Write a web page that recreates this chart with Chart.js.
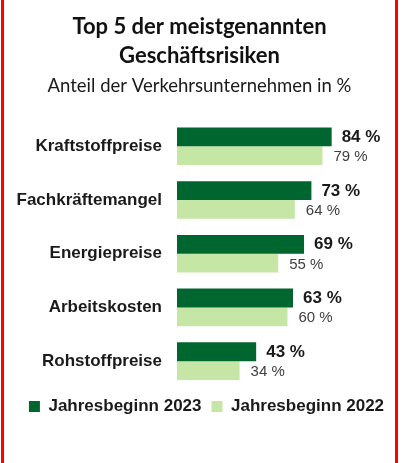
<!DOCTYPE html>
<html>
<head>
<meta charset="utf-8">
<script src="https://cdn.jsdelivr.net/npm/chart.js@4.4.0/dist/chart.umd.min.js"></script>
<style>
  html, body { margin: 0; padding: 0; background: #ffffff; }
  #frame {
    position: absolute; left: 1px; top: 0;
    width: 391px; height: 463px;
    border-left: 3px solid #ff0000; border-right: 3px solid #ff0000;
    background: #ffffff;
  }
  canvas { display: block; }
</style>
</head>
<body>
<div id="frame"><canvas id="c" width="391" height="463"></canvas></div>
<script>
const titleLines = ['Top 5 der meistgenannten', 'Geschäftsrisiken'];
const subtitleText = 'Anteil der Verkehrsunternehmen in %';
const categories = ['Kraftstoffpreise', 'Fachkräftemangel', 'Energiepreise', 'Arbeitskosten', 'Rohstoffpreise'];
const seriesNames = ['Jahresbeginn 2023', 'Jahresbeginn 2022'];
const values2023 = [84, 73, 69, 63, 43];
const values2022 = [79, 64, 55, 60, 34];

const DARK = '#00662f';
const LIGHT = '#c6e6a5';

const valueLabels = {
  id: 'valueLabels',
  afterDatasetsDraw(chart) {
    const ctx = chart.ctx;
    chart.data.datasets.forEach((ds, di) => {
      const meta = chart.getDatasetMeta(di);
      meta.data.forEach((bar, i) => {
        const v = ds.data[i];
        ctx.save();
        ctx.textAlign = 'left';
        ctx.textBaseline = 'middle';
        if (di === 0) {
          ctx.font = 'bold 17px "Liberation Sans", Arial, sans-serif';
          ctx.fillStyle = '#1a1a1a';
          ctx.fillText(v + ' %', bar.x + 10, bar.y + 0.5);
        } else {
          ctx.font = '15px "Liberation Sans", Arial, sans-serif';
          ctx.fillStyle = '#404040';
          ctx.fillText(v + ' %', bar.x + 11, bar.y + 1.5);
        }
        ctx.restore();
      });
    });
  }
};

const legendShift = {
  id: 'legendShift',
  afterLayout(chart) {
    if (chart.legend) { chart.legend.left += 7; chart.legend.right += 7; }
  }
};

new Chart(document.getElementById('c'), {
  type: 'bar',
  data: {
    labels: categories,
    datasets: [
      { label: seriesNames[0], data: values2023, backgroundColor: DARK, borderWidth: 0,
        categoryPercentage: 0.7, barPercentage: 1.0 },
      { label: seriesNames[1], data: values2022, backgroundColor: LIGHT, borderWidth: 0,
        categoryPercentage: 0.7, barPercentage: 1.0 }
    ]
  },
  options: {
    responsive: false,
    animation: false,
    indexAxis: 'y',
    layout: { padding: { top: 0, left: 0, right: 0, bottom: 38 } },
    scales: {
      x: {
        display: false,
        min: 0, max: 118.4,
        grid: { display: false }
      },
      y: {
        grid: { display: false, drawTicks: false },
        border: { display: false },
        ticks: {
          padding: 15,
          color: '#1a1a1a',
          font: { family: '"Liberation Sans", Arial, sans-serif', size: 17, weight: 'bold' }
        },
        afterFit(scale) { scale.width = 173; }
      }
    },
    plugins: {
      title: {
        display: true,
        text: titleLines,
        color: '#111111',
        font: { family: 'Lato, sans-serif', size: 22, weight: 'bold', lineHeight: 1.3 },
        padding: { top: 13, bottom: 0 }
      },
      subtitle: {
        display: true,
        text: subtitleText,
        color: '#1a1a1a',
        font: { family: 'Lato, sans-serif', size: 18.5, weight: 'normal', lineHeight: 1.2 },
        padding: { top: 5, bottom: 22 }
      },
      legend: {
        position: 'bottom',
        labels: {
          boxWidth: 11,
          boxHeight: 11,
          padding: 10,
          color: '#1a1a1a',
          font: { family: '"Liberation Sans", Arial, sans-serif', size: 17, weight: 'bold' }
        }
      },
      tooltip: { enabled: false }
    }
  },
  plugins: [valueLabels, legendShift]
});
</script>
</body>
</html>
